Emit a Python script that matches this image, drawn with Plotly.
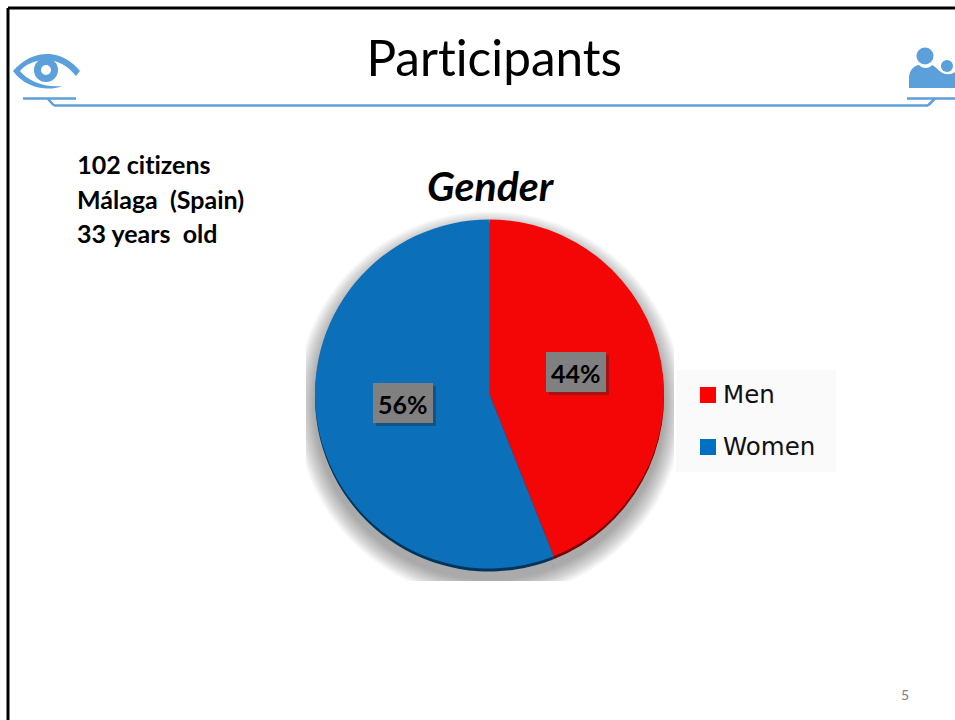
import plotly.graph_objects as go

W, H = 955, 720
categories = ["Men", "Women"]
values = [44, 56]
colors = ["#f40606", "#0b6fb9"]
rim_colors = ["#7a0000", "#03355c"]
legend_colors = ["#ff0000", "#0070c0"]
label_pos = [(576, 372), (403, 403)]
info_lines = ["102 citizens", "Málaga  (Spain)", "33 years  old"]
title_text = "Participants"
chart_title = "Gender"
page_number = "5"
ICON = "#5b9fdb"


def px(x):
    return x / W


def py(y):
    return 1 - y / H


def dom(cx, cy, r):
    return dict(x=[px(cx - r), px(cx + r)], y=[py(cy + r), py(cy - r)])


def path(cmds):
    out = []
    for c in cmds:
        if isinstance(c, str):
            out.append(c)
        else:
            out.append(f"{px(c[0]):.5f},{py(c[1]):.5f}")
    return " ".join(out)


def rect(x0, y0, x1, y1, fill, layer="below"):
    return dict(type="rect", xref="paper", yref="paper", x0=px(x0), x1=px(x1), y0=py(y1), y1=py(y0),
                fillcolor=fill, line_width=0, layer=layer)


def line(x0, y0, x1, y1, color, width):
    return dict(type="line", xref="paper", yref="paper", x0=px(x0), x1=px(x1), y0=py(y0), y1=py(y1),
                line=dict(color=color, width=width), layer="above")


def circle(cx, cy, r, fill):
    return dict(type="circle", xref="paper", yref="paper", x0=px(cx - r), x1=px(cx + r), y0=py(cy + r), y1=py(cy - r),
                fillcolor=fill, line_width=0, layer="above")


fig = go.Figure()
CX, CY, R = 489.5, 394, 174.5

# soft drop shadow
for r in range(194, 174, -1):
    fig.add_trace(go.Pie(values=values, labels=categories, domain=dom(CX, CY + 11, r), sort=False,
                         direction="clockwise", textinfo="none", hoverinfo="skip", showlegend=False,
                         marker=dict(colors=["rgba(80,80,80,0.028)"] * 2, line_width=0)))
# rim
fig.add_trace(go.Pie(values=values, labels=categories, domain=dom(CX, CY + 3, R), sort=False,
                     direction="clockwise", textinfo="none", hoverinfo="skip", showlegend=False,
                     marker=dict(colors=rim_colors, line_width=0)))
# face
fig.add_trace(go.Pie(values=values, labels=categories, domain=dom(CX, CY, R), sort=False,
                     direction="clockwise", textinfo="none", showlegend=False,
                     marker=dict(colors=colors, line_width=0)))

shapes = [
    # clip the shadow like the pasted picture
    rect(0, 581, 955, 610, "white", "above"),
    rect(290, 200, 306, 600, "white", "above"),
    rect(674, 200, 690, 600, "white", "above"),
    rect(676, 370, 836, 472, "#fafafa", "above"),
    line(8, 8, 955, 8, "black", 3),
    line(8, 8, 8, 720, "black", 3),
    line(23, 98.5, 76, 98.5, ICON, 2.5),
    line(48, 99, 54, 105.5, ICON, 2.5),
    line(54, 105.5, 928, 105.5, ICON, 2.5),
    line(928, 105.5, 935, 98.5, ICON, 2.5),
    line(907, 98.5, 955, 98.5, ICON, 2.5),
    dict(type="path", xref="paper", yref="paper", fillcolor=ICON, line_width=0, layer="above",
         path=path(["M", (13, 71), "C", (24, 58), (38, 53), (50, 54), "C", (62, 55), (73, 62), (80, 71),
                    "L", (76, 76), "C", (68, 66), (58, 60), (46, 60), "C", (35, 60), (26, 64), (20, 71),
                    "C", (28, 81), (45, 88), (62, 86), "C", (48, 92), (25, 88), (13, 71), "Z"])),
    circle(46, 70, 12, ICON),
    circle(46, 70, 5, "white"),
    dict(type="path", xref="paper", yref="paper", fillcolor=ICON, line_width=0, layer="above",
         path=path(["M", (909, 88), "L", (909, 78), "C", (909, 70), (915, 65), (919, 65),
                    "C", (922, 69), (929, 69), (932, 65), "C", (935, 66), (938, 70), (941, 72),
                    "C", (945, 75), (951, 75), (955, 72), "L", (955, 88), "Z"])),
    circle(925, 56, 8.5, ICON),
    circle(947, 66, 6, ICON),
]
annotations = []


def text(x, y, s, size, color="black", anchor="center", family="Lato"):
    annotations.append(dict(xref="paper", yref="paper", x=px(x), y=py(y), text=s, showarrow=False,
                            xanchor=anchor, yanchor="middle", font=dict(family=family, size=size, color=color)))


for v, (x, y) in zip(values, label_pos):
    shapes.append(rect(x - 30 + 3, y - 20 + 3, x + 30 + 3, y + 20 + 3, "rgba(40,40,40,0.40)", "above"))
    shapes.append(rect(x - 30, y - 20, x + 30, y + 20, "#808080", "above"))
    text(x, y + 1, f"<b>{v}%</b>", 25)

# legend
for cat, col, y in zip(categories, legend_colors, [395, 447]):
    shapes.append(rect(700, y - 8, 716, y + 8, col, "above"))
    text(721, y - 1, cat, 24.5, "#111", "left", "DejaVu Sans")

text(494, 57, title_text, 49.5)
text(491, 186, f"<b><i>{chart_title}</i></b>", 41)
for s, y in zip(info_lines, [164, 199, 233]):
    text(75, y, f"<b>{s}</b>", 25, anchor="left")
text(905, 694, page_number, 14, "#808080")

fig.update_layout(
    width=W, height=H, margin=dict(l=0, r=0, t=0, b=0), paper_bgcolor="white", plot_bgcolor="white",
    shapes=shapes, annotations=annotations, showlegend=False,
)
css = ("document.body.style.margin='0';"
       "var s=document.createElement('style');"
       "s.textContent='svg text{font-variant-ligatures:none !important;}';"
       "document.head.appendChild(s);")
fig.write_html("out.html", post_script=css, config={"displayModeBar": False})
